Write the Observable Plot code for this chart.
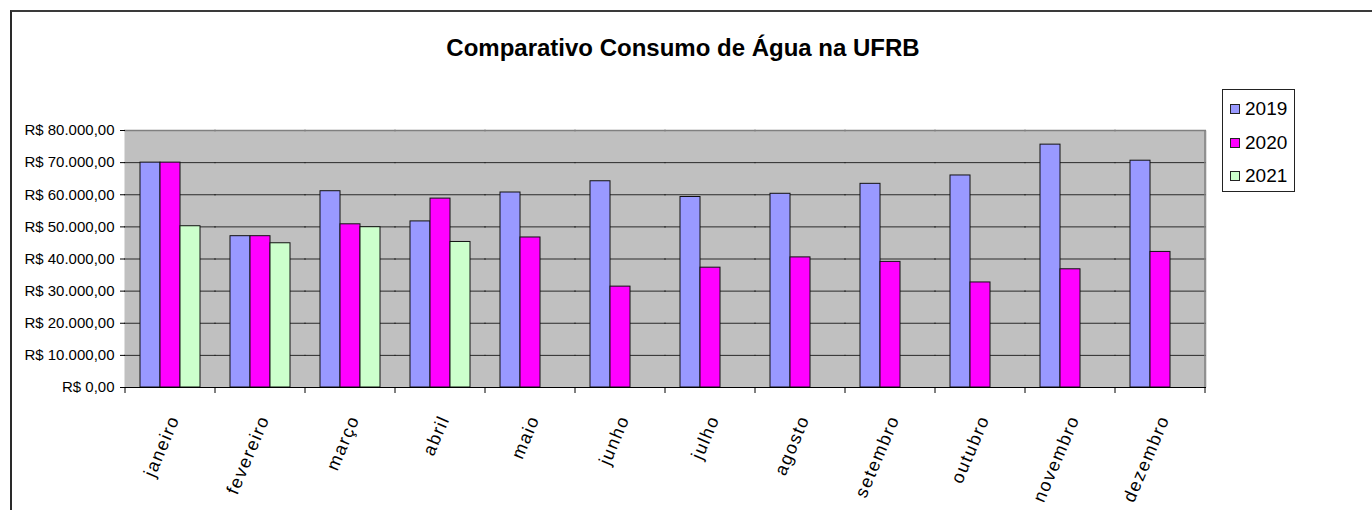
<!DOCTYPE html>
<html>
<head>
<meta charset="utf-8">
<script src="https://cdn.jsdelivr.net/npm/d3@7"></script>
<script src="https://cdn.jsdelivr.net/npm/@observablehq/plot@0.6"></script>
<style>
  html, body { margin: 0; padding: 0; background: #fff; }
  body { font-family: "Liberation Sans", Arial, sans-serif; }
  #wrap { position: relative; width: 1372px; height: 510px; overflow: hidden; }
  #frame { position: absolute; left: 10px; top: 10px; width: 1380px; height: 520px;
           border-top: 2px solid #3a3a3a; border-left: 2px solid #2a2a2a; box-sizing: border-box; }
  #title { position: absolute; left: 0; width: 1366px; top: 36px; text-align: center;
           font-size: 24px; font-weight: bold; line-height: 1; color: #000; }
  #chart { position: absolute; left: 0; top: 0; }
  #legend { position: absolute; left: 1222px; top: 89px; width: 73px; height: 103px;
            border: 1px solid #222; box-sizing: border-box; background: #fff; }
  .item { position: absolute; left: 7px; height: 22px; display: flex; align-items: center;
          font-size: 19px; color: #000; }
  .sw { width: 8px; height: 8px; border: 1px solid #222; margin-right: 5px; }
</style>
</head>
<body>
<div id="wrap">
  <div id="frame"></div>
  <div id="title"></div>
  <div id="chart"></div>
  <div id="legend"></div>
</div>
<script>
const titleText = "Comparativo Consumo de Água na UFRB";
const months = ["janeiro","fevereiro","março","abril","maio","junho","julho","agosto","setembro","outubro","novembro","dezembro"];
const years = ["2019","2020","2021"];
const colors = ["#9999ff","#ff00ff","#ccffcc"];
const v2019 = [70000, 47100, 61100, 51700, 60700, 64200, 59300, 60300, 63400, 66000, 75600, 70600];
const v2020 = [70000, 47100, 50800, 58800, 46700, 31400, 37300, 40500, 39100, 32700, 36800, 42200];
const v2021 = [50200, 44900, 49900, 45300];
const yTicks = [0, 10000, 20000, 30000, 40000, 50000, 60000, 70000, 80000];

const series = [v2019, v2020, v2021];
const data = [];
series.forEach((vals, si) => vals.forEach((v, mi) => data.push({month: months[mi], year: years[si], value: v})));

const brl = d3.formatLocale({decimal: ",", thousands: ".", grouping: [3], currency: ["R$ ", ""]}).format("$,.2f");

document.getElementById("title").textContent = titleText;

const W = 1372, H = 510;
const plot = Plot.plot({
  width: W, height: H,
  marginTop: 130, marginBottom: 123, marginLeft: 122, marginRight: 165,
  style: {fontFamily: "'Liberation Sans', Arial, sans-serif", background: "transparent", color: "#000"},
  fx: {domain: months, padding: 0, label: null},
  x: {type: "band", domain: years, paddingInner: 0, paddingOuter: 0.73, axis: null},
  y: {domain: [0, 80000], label: null},
  color: {domain: years, range: colors},
  marks: [
    Plot.frame({fill: "#c0c0c0", stroke: "none", insetLeft: -1, insetRight: -1}),
    Plot.ruleY(yTicks.filter(d => d > 0 && d < 80000), {stroke: "#2a2a2a", strokeWidth: 1, insetLeft: -1, insetRight: -1}),
    Plot.ruleY([80000], {stroke: "#808080", strokeWidth: 1.5, insetLeft: -1, insetRight: -1}),
    Plot.barY(data, {fx: "month", x: "year", y: "value", fill: "year", stroke: "#111", strokeWidth: 1}),
    Plot.ruleY([0], {stroke: "#000", strokeWidth: 1.2, insetLeft: -1, insetRight: -1}),
    Plot.axisY({ticks: yTicks, tickFormat: brl, tickSize: 5, tickPadding: 6, fontSize: 15, line: true, label: null}),
    Plot.axisFx({anchor: "bottom", tickSize: 0, tickPadding: 29, tickRotate: -67, fontSize: 18, dx: 4, label: null})
  ]
});
document.getElementById("chart").appendChild(plot);

// boundary ticks on the category axis and right border of plot area, from the fx scale
const fx = plot.scale("fx");
const ys = plot.scale("y");
const y0 = ys.apply(0), yTop = ys.apply(80000);
const bounds = months.map(m => fx.apply(m));
const lastEdge = fx.apply(months[months.length - 1]) + fx.bandwidth;
bounds.push(lastEdge);
const g = d3.select(plot).append("g");
g.selectAll("line.b").data(bounds).join("line")
  .attr("x1", d => d).attr("x2", d => d)
  .attr("y1", y0).attr("y2", y0 + 6)
  .attr("stroke", "#000");
g.append("line").attr("x1", lastEdge).attr("x2", lastEdge)
  .attr("y1", yTop).attr("y2", y0).attr("stroke", "#808080").attr("stroke-width", 1.5);
d3.select(plot).selectAll("g[aria-label='fx-axis tick label'] text")
  .style("letter-spacing", "1.5px");

// legend
const leg = document.getElementById("legend");
const tops = [8, 42, 75];
years.forEach((yr, i) => {
  const it = document.createElement("div");
  it.className = "item";
  it.style.top = tops[i] + "px";
  const sw = document.createElement("div");
  sw.className = "sw";
  sw.style.background = colors[i];
  const t = document.createElement("span");
  t.textContent = yr;
  it.appendChild(sw); it.appendChild(t);
  leg.appendChild(it);
});
</script>
</body>
</html>
